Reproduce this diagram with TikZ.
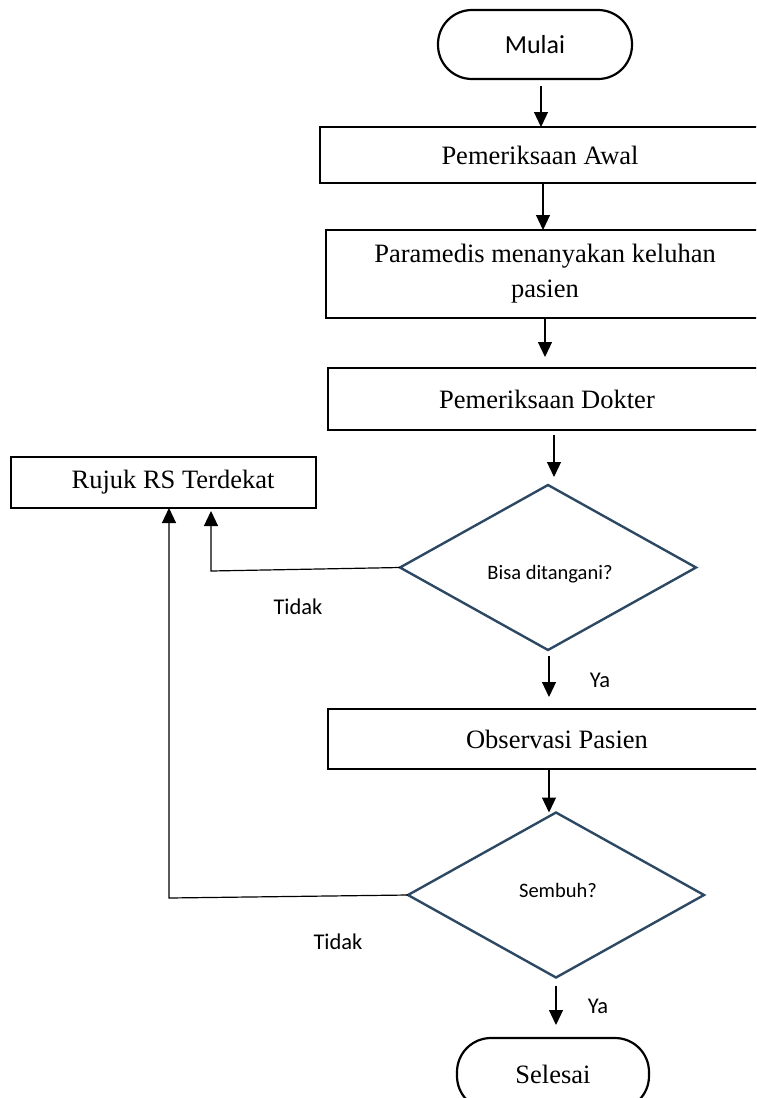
\documentclass[tikz,border=0pt]{standalone}
\usepackage{fontspec}
\setmainfont{Liberation Serif}
\newfontfamily\calibrifont{Carlito}
\usetikzlibrary{shapes.geometric,arrows.meta}
\definecolor{diacol}{RGB}{44,72,99}
\begin{document}
\begin{tikzpicture}[x=1pt,y=-1pt,
  every node/.style={inner sep=0pt, outer sep=0pt},
  procbox/.style={draw=black, line width=1.3pt, fill=white, align=center,
    font=\fontsize{26.5}{35}\selectfont},
  termbox/.style={draw=black, line width=2.2pt, rounded corners=34pt},
  decision/.style={diamond, draw=diacol, line width=2.4pt,
    minimum width=296pt, minimum height=165pt},
  lbl/.style={font=\calibrifont\fontsize{22.5}{26}\selectfont},
  qtext/.style={font=\calibrifont\fontsize{20.5}{24}\selectfont},
  arr/.style={line width=1.2pt, -{Triangle[length=15pt,width=14pt]}}
]
\clip (0,0) rectangle (756,1098);

% terminals and process boxes
\node[termbox, minimum width=194pt, minimum height=69pt,
      font=\calibrifont\fontsize{26}{30}\selectfont] (mulai) at (535,44.5) {Mulai};
\node[procbox, minimum width=440pt, minimum height=56pt] (awal) at (540,155) {Pemeriksaan Awal};
\node[procbox, minimum width=438pt, minimum height=88pt] (para) at (545,274)
  {Paramedis menanyakan keluhan\\pasien};
\node[procbox, minimum width=438pt, minimum height=62pt] (dokter) at (547,399) {Pemeriksaan Dokter};
\node[procbox, minimum width=305pt, minimum height=51pt] (rujuk) at (163.5,482.5)
  {\hspace*{19pt}Rujuk RS Terdekat};

% first decision
\node[decision] (d1) at (548,567.5) {};
\node[qtext] (q1) at (550,574) {Bisa ditangani?};

\node[procbox, minimum width=458pt, minimum height=60pt] (obs) at (557,739) {Observasi Pasien};

% second decision
\node[decision] (d2) at (556,895) {};
\node[qtext] (q2) at (558,890) {Sembuh?};

\node[termbox, minimum width=192pt, minimum height=72pt,
      font=\fontsize{26.5}{30}\selectfont] (selesai) at (553,1074) {Selesai};

% branch labels
\node[lbl] (t1) at (298,607) {Tidak};
\node[lbl] (y1) at (600,680) {Ya};
\node[lbl] (t2) at (338,942) {Tidak};
\node[lbl] (y2) at (598,1006) {Ya};

% main flow
\draw[arr, shorten <=7pt] ([xshift=6pt]mulai.south) -- ([xshift=6pt]mulai.south |- awal.north);
\draw[arr] ([xshift=3pt]awal.south) -- ([xshift=3pt]awal.south |- para.north);
\draw[arr, shorten >=11pt] (para.south) -- (para.south |- dokter.north);
\draw[arr, shorten <=5pt, shorten >=8pt] ([xshift=7pt]dokter.south) -- ([xshift=7pt]dokter.south |- d1.north);
\draw[arr, shorten <=6pt, shorten >=12pt] ([xshift=1pt]d1.south) -- ([xshift=1pt]d1.south |- obs.north);
\draw[arr] ([xshift=-8pt]obs.south) -- ([xshift=-8pt]obs.south |- d2.north);
\draw[arr, shorten <=8pt, shorten >=13pt] (d2.south) -- (d2.south |- selesai.north);

% "Tidak" branches to the referral box
\coordinate (k1) at (211,571);
\draw[arr, shorten >=3pt] (d1.west) -- (k1) -- (k1 |- rujuk.south);
\coordinate (k2) at (169,898);
\draw[arr] (d2.west) -- (k2) -- (k2 |- rujuk.south);
\end{tikzpicture}
\end{document}
